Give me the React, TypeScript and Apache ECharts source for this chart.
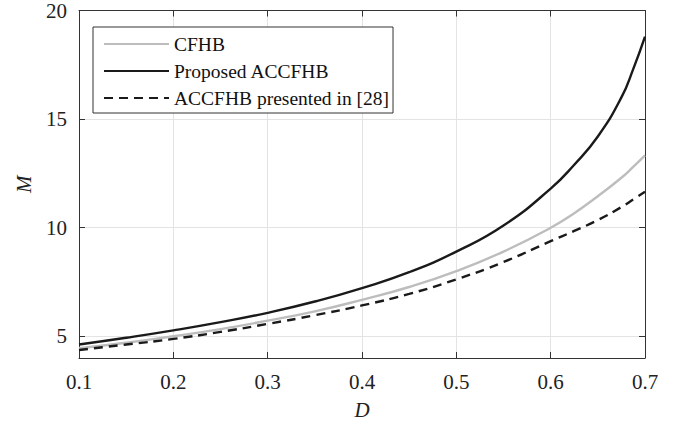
import React, { useEffect, useRef } from "react";
import * as echarts from "echarts";

const D = [0.1, 0.15, 0.2, 0.25, 0.3, 0.35, 0.4, 0.45, 0.5, 0.55, 0.6, 0.625, 0.65, 0.675, 0.6875, 0.7];
const CFHB = [4.45, 4.7, 5.0, 5.33, 5.72, 6.15, 6.68, 7.27, 8.0, 8.9, 10.0, 10.67, 11.45, 12.3, 12.8, 13.33];
const PROPOSED = [4.62, 4.93, 5.27, 5.65, 6.08, 6.6, 7.22, 7.95, 8.9, 10.1, 11.8, 12.9, 14.2, 16.0, 17.3, 18.8];
const PRESENTED = [4.37, 4.62, 4.88, 5.2, 5.57, 5.97, 6.42, 6.95, 7.62, 8.42, 9.38, 9.85, 10.35, 10.95, 11.3, 11.65];
const SERIES_NAMES = ["CFHB", "Proposed ACCFHB", "ACCFHB presented in [28]"];

const FONT = "Liberation Serif";

export default function App() {
  const ref = useRef<HTMLDivElement>(null);
  useEffect(() => {
    document.body.style.margin = "0";
    const chart = echarts.init(ref.current!, null, { renderer: "svg" });
    const pairs = (ys: number[]) => D.map((d, i) => [d, ys[i]]);
    const axisLine = { show: true, lineStyle: { color: "#333", width: 1 } };
    const tick = { show: true, inside: true, length: 6, lineStyle: { color: "#333" } };
    const lineCommon = {
      type: "line",
      smooth: true,
      showSymbol: false,
      symbol: "none",
    };
    chart.setOption({
      animation: false,
      backgroundColor: "#fff",
      textStyle: { fontFamily: FONT },
      grid: { left: 79, right: 34, top: 10, bottom: 72, containLabel: false },
      legend: {
        orient: "vertical",
        left: 93,
        top: 27,
        itemWidth: 65,
        itemHeight: 14,
        itemGap: 7,
        padding: [7, 4, 5, 10],
        borderColor: "#333",
        borderWidth: 1,
        backgroundColor: "#fff",
        itemStyle: { color: "rgba(0,0,0,0)", borderColor: "rgba(0,0,0,0)", borderWidth: 0, opacity: 0 },
        textStyle: { fontFamily: FONT, fontSize: 19.5, color: "#111", lineHeight: 20 },
        data: SERIES_NAMES,
      },
      xAxis: [
        {
          type: "value",
          min: 0.1,
          max: 0.7,
          interval: 0.1,
          axisLine,
          axisTick: tick,
          splitLine: { show: true, lineStyle: { color: "#e3e3e3", width: 1 } },
          axisLabel: {
            fontFamily: FONT,
            fontSize: 21,
            color: "#222",
            margin: 13,
            formatter: (v: number) => v.toFixed(1),
          },
          name: "D",
          nameLocation: "middle",
          nameGap: 41,
          nameTextStyle: { fontFamily: FONT, fontSize: 21, fontStyle: "italic", color: "#222" },
        },
        {
          type: "value",
          position: "top",
          min: 0.1,
          max: 0.7,
          interval: 0.1,
          axisLine,
          axisTick: tick,
          splitLine: { show: false },
          axisLabel: { show: false },
        },
      ],
      yAxis: [
        {
          type: "value",
          min: 4,
          max: 20,
          splitNumber: 3,
          axisLine,
          axisTick: tick,
          splitLine: { show: true, lineStyle: { color: "#e3e3e3", width: 1 } },
          axisLabel: {
            fontFamily: FONT,
            fontSize: 21,
            color: "#222",
            margin: 12,
            showMinLabel: false,
          },
          name: "M",
          nameLocation: "middle",
          nameGap: 45,
          nameTextStyle: { fontFamily: FONT, fontSize: 21, fontStyle: "italic", color: "#222" },
        },
        {
          type: "value",
          position: "right",
          min: 4,
          max: 20,
          splitNumber: 3,
          axisLine,
          axisTick: tick,
          splitLine: { show: false },
          axisLabel: { show: false },
        },
      ],
      series: [
        {
          ...lineCommon,
          name: SERIES_NAMES[0],
          data: pairs(CFHB),
          lineStyle: { color: "#bdbdbd", width: 2.4 },
          itemStyle: { color: "#bdbdbd" },
          z: 3,
        },
        {
          ...lineCommon,
          name: SERIES_NAMES[1],
          data: pairs(PROPOSED),
          lineStyle: { color: "#1a1a1a", width: 2.4 },
          itemStyle: { color: "#1a1a1a" },
          z: 4,
        },
        {
          ...lineCommon,
          name: SERIES_NAMES[2],
          data: pairs(PRESENTED),
          lineStyle: { color: "#1a1a1a", width: 2.4, type: [9, 6] },
          itemStyle: { color: "#1a1a1a" },
          z: 5,
        },
      ],
    });
    return () => chart.dispose();
  }, []);
  return <div ref={ref} style={{ position: "fixed", left: 0, top: 0, width: 679, height: 430 }} />;
}
